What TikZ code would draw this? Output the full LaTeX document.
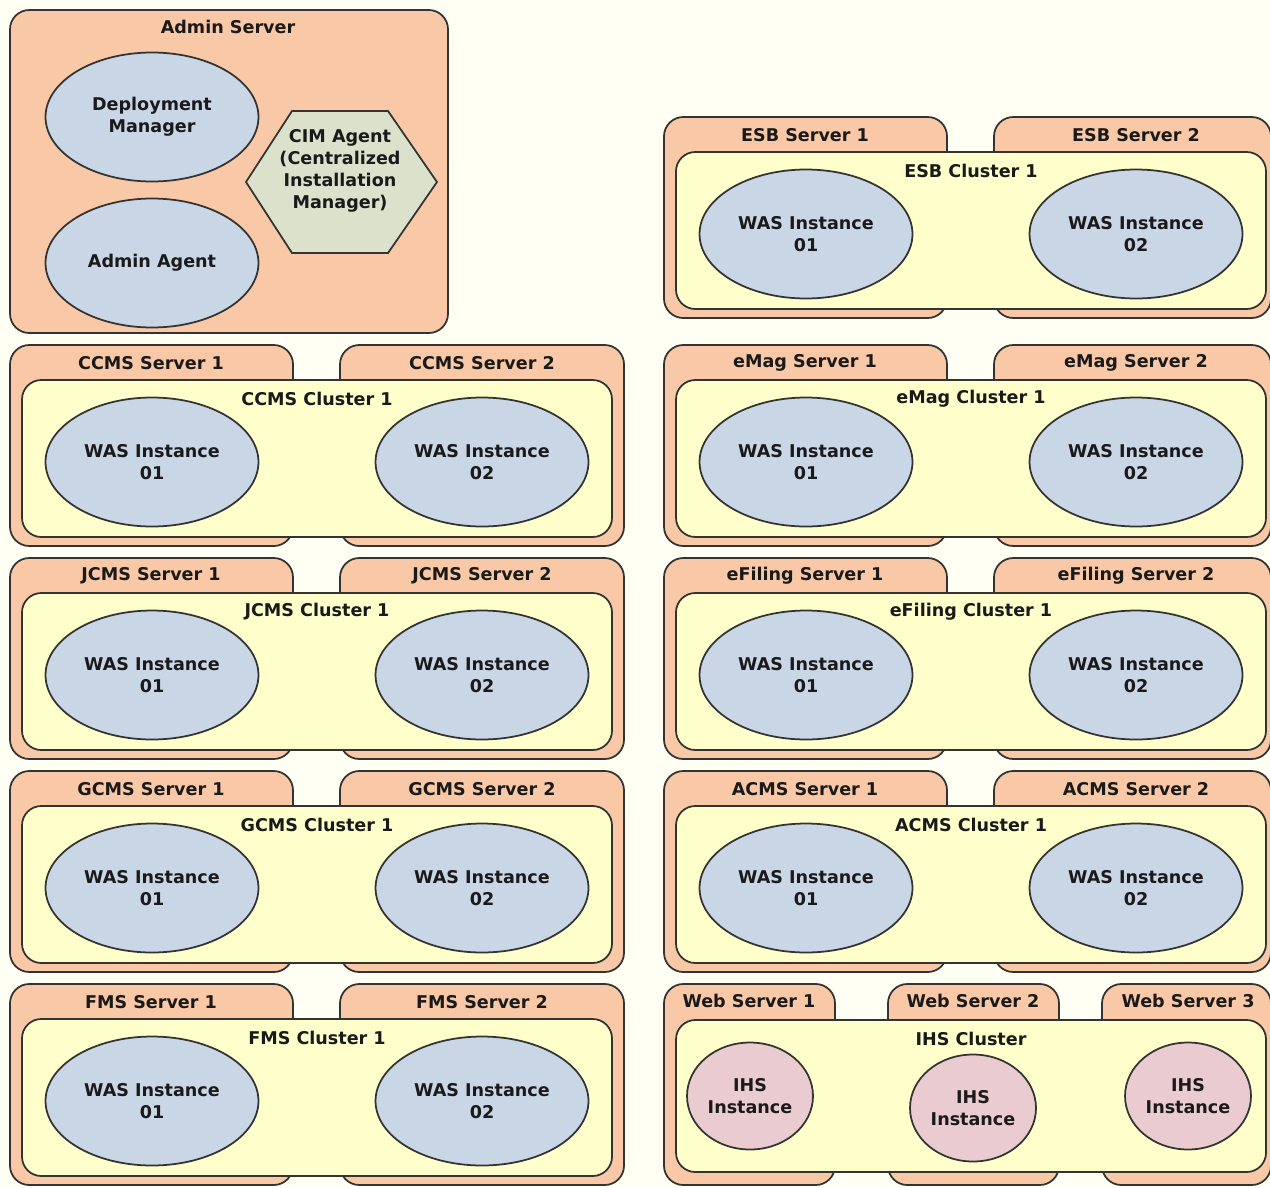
\documentclass[tikz,border=0pt]{standalone}
\usepackage{fontspec}
\setmainfont{DejaVu Sans}
\usetikzlibrary{fit,shapes.geometric}
\definecolor{bgc}{HTML}{FFFFF4}
\definecolor{peach}{HTML}{F9C8A6}
\definecolor{clyellow}{HTML}{FFFFCC}
\definecolor{wasblue}{HTML}{C9D6E6}
\definecolor{hexc}{HTML}{DCE1CB}
\definecolor{ihspink}{HTML}{EACCD0}
\definecolor{linec}{HTML}{333333}
\definecolor{txtc}{HTML}{1A1A1A}
\tikzset{
  serverbox/.style={draw=linec, fill=peach, line width=1pt, rounded corners=11pt, inner sep=0pt},
  clusterbox/.style={draw=linec, fill=clyellow, line width=1pt, rounded corners=11pt, inner sep=0pt},
  ttl/.style={font=\bfseries\fontsize{10}{12.4}\selectfont, text=txtc, align=center, inner sep=0pt},
  wasell/.style={ellipse, draw=linec, fill=wasblue, line width=1pt, minimum width=4.26cm, minimum height=2.58cm, inner sep=0pt, font=\bfseries\fontsize{10}{12.4}\selectfont, text=txtc, align=center},
  ihscirc/.style={ellipse, draw=linec, fill=ihspink, line width=1pt, minimum width=2.52cm, minimum height=2.14cm, inner sep=0pt, font=\bfseries\fontsize{10}{12.4}\selectfont, text=txtc, align=center},
  hexshape/.style={draw=linec, fill=hexc, line width=1pt}
}
% #1 prefix, #2 x offset, #3 top, #4 server name, #5 cluster name, #6 right edge of server 2
\newcommand\twoblock[6]{%
  \node[serverbox, fit={(#2+10,#3) (#2+293,#3+201)}] (#1s1) {};
  \node[serverbox, fit={(#2+340,#3) (#6,#3+201)}] (#1s2) {};
  \node[ttl] (#1t1) at (#2+151,#3+18) {#4 Server 1};
  \node[ttl] (#1t2) at (#2+482,#3+18) {#4 Server 2};
  \node[clusterbox, fit={(#2+22,#3+35) (#2+612,#3+192)}] (#1c) {};
  \node[ttl] (#1ct) at (#2+317,#3+54) {#5 Cluster 1};
  \node[wasell] (#1w1) at (#2+152,#3+117) {WAS Instance\\01};
  \node[wasell] (#1w2) at (#2+482,#3+117) {WAS Instance\\02};
}
\begin{document}
\begin{tikzpicture}[x=0.02cm, y=-0.02cm]
\fill[bgc] (0,0) rectangle (1270,1187);
\useasboundingbox (0,0) rectangle (1270,1187);
% Admin server
\node[serverbox, fit={(10,10) (448,333)}] (admin) {};
\node[ttl] (admint) at (228,27) {Admin Server};
\node[wasell] (dm) at (152,117) {Deployment\\Manager};
\node[wasell] (aa) at (152,263) {Admin Agent};
\draw[hexshape] (246,182) coordinate (h1) -- (292,111) coordinate (h2) -- (388,111) coordinate (h3)
  -- (437,182) coordinate (h4) -- (388,253) coordinate (h5) -- (292,253) coordinate (h6) -- cycle;
\node[ttl] (cim) at (340,171) {CIM Agent\\(Centralized\\Installation\\Manager)};
% Left column
\twoblock{ccms}{0}{345}{CCMS}{CCMS}{624}
\twoblock{jcms}{0}{558}{JCMS}{JCMS}{624}
\twoblock{gcms}{0}{771}{GCMS}{GCMS}{624}
\twoblock{fms}{0}{984}{FMS}{FMS}{624}
% Right column
\twoblock{esb}{654}{117}{ESB}{ESB}{1271}
\twoblock{emag}{654}{345}{eMag}{eMag}{1271}
\twoblock{efil}{654}{558}{eFiling}{eFiling}{1271}
\twoblock{acms}{654}{771}{ACMS}{ACMS}{1271}
% Web servers
\node[serverbox, fit={(664,984) (835,1185)}] (web1) {};
\node[serverbox, fit={(888,984) (1059,1185)}] (web2) {};
\node[serverbox, fit={(1102,984) (1271,1185)}] (web3) {};
\node[ttl] (web1t) at (749,1001) {Web Server 1};
\node[ttl] (web2t) at (973,1001) {Web Server 2};
\node[ttl] (web3t) at (1188,1001) {Web Server 3};
\node[clusterbox, fit={(676,1020) (1266,1172)}] (ihsc) {};
\node[ttl] (ihsct) at (971,1039) {IHS Cluster};
\node[ihscirc] (ihs1) at (750,1096) {IHS\\Instance};
\node[ihscirc] (ihs2) at (973,1108) {IHS\\Instance};
\node[ihscirc] (ihs3) at (1188,1096) {IHS\\Instance};
\end{tikzpicture}
\end{document}
